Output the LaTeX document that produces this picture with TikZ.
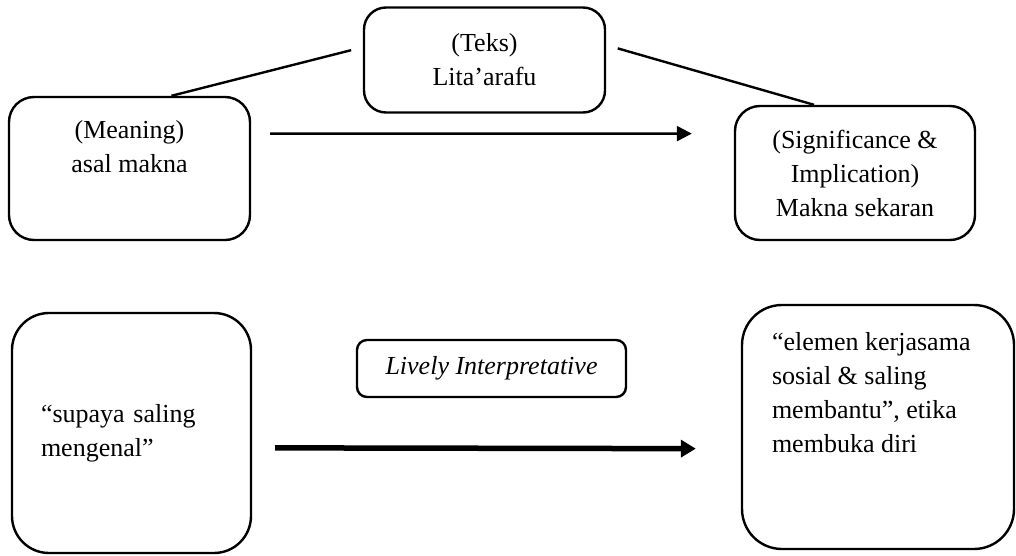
\documentclass[tikz,border=0pt]{standalone}
\usepackage{fontspec}
\setmainfont{Liberation Serif}
\usetikzlibrary{arrows.meta, positioning}
\newcommand{\boxfont}{\fontsize{26}{34}\selectfont}
\tikzset{
  roundbox/.style={draw, line width=2.4pt, inner sep=0pt, font=\boxfont},
  thinarrow/.style={-{Triangle[length=15pt, width=15pt]}, line width=2.4pt},
  thickarrow/.style={-{Triangle[length=15pt, width=17pt]}, line width=5.5pt},
}

\begin{document}
\begin{tikzpicture}[x=1pt, y=-1pt]
  \useasboundingbox (0,0) rectangle (1016,555);

  % top row: text, meaning, significance
  \node[roundbox, rounded corners=22pt, minimum width=241pt, minimum height=105pt, align=center] (teks) at (484.5, 60) {(Teks)\\Lita’arafu};
  \node[roundbox, rounded corners=25pt, minimum width=241pt, minimum height=143pt, inner ysep=23pt] (meaning) at (129.5, 168.5) {\parbox[c][97pt][t]{200pt}{\centering (Meaning)\\asal makna}};
  \node[roundbox, rounded corners=25pt, minimum width=240pt, minimum height=134pt, align=center] (signif) at (855, 173) {(Significance \&\\Implication)\\Makna sekaran};

  \draw[line width=2.4pt, shorten >=12pt] (meaning.60.5) -- (teks.174.6);
  \draw[line width=2.4pt, shorten <=12pt] (teks.7.3) -- (signif.121.7);
  \draw[thinarrow, shorten <=19pt, shorten >=42pt] (meaning.16) -- (signif.162);

  % bottom row: lively interpretation
  \node[roundbox, rounded corners=37pt, minimum width=239pt, minimum height=240pt, align=left, text width=181pt] (supaya) at (131.5, 433) {“supaya saling\\mengenal”};
  \node[roundbox, rounded corners=10pt, minimum width=269pt, minimum height=57pt, font=\boxfont\itshape] (lively) at (491.5, 368.5) {Lively Interpretative};
  \node[roundbox, rounded corners=40pt, inner xsep=30pt, inner ysep=27pt] (elemen) at (878, 427) {\parbox[c][190pt][t]{212pt}{\raggedright “elemen kerjasama\\sosial \& saling\\membantu”, etika\\membuka diri}};

  \draw[thickarrow, shorten <=23pt, shorten >=45pt] (supaya.-7.6) -- (elemen.189.2);
\end{tikzpicture}
\end{document}
